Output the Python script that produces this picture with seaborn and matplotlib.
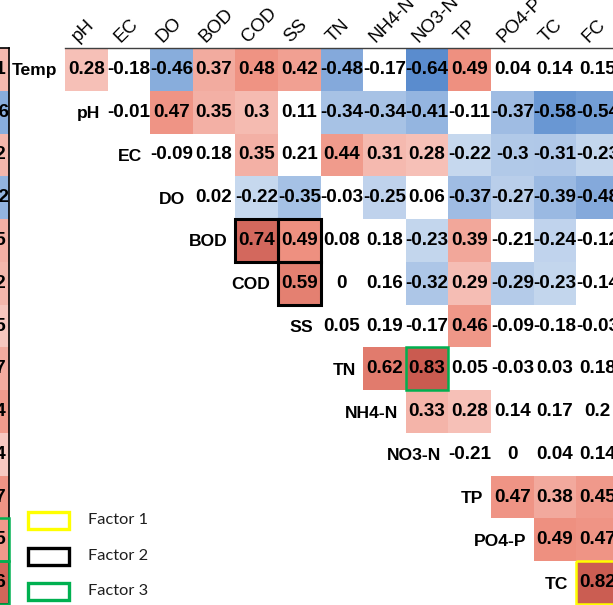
import numpy as np
import pandas as pd
import seaborn as sns
import matplotlib
matplotlib.use("Agg")
import matplotlib.pyplot as plt
from matplotlib.colors import LinearSegmentedColormap
from matplotlib.patches import Rectangle

# ---- variables and pairwise correlation coefficients (upper triangle) ----
row_labels = ["Temp", "pH", "EC", "DO", "BOD", "COD", "SS", "TN",
              "NH4-N", "NO3-N", "TP", "PO4-P", "TC"]
col_labels = ["pH", "EC", "DO", "BOD", "COD", "SS", "TN",
              "NH4-N", "NO3-N", "TP", "PO4-P", "TC", "FC"]

r_temp = [0.28, -0.18, -0.46, 0.37, 0.48, 0.42, -0.48, -0.17, -0.64, 0.49, 0.04, 0.14, 0.15]
r_ph = [-0.01, 0.47, 0.35, 0.3, 0.11, -0.34, -0.34, -0.41, -0.11, -0.37, -0.58, -0.54]
r_ec = [-0.09, 0.18, 0.35, 0.21, 0.44, 0.31, 0.28, -0.22, -0.3, -0.31, -0.23]
r_do = [0.02, -0.22, -0.35, -0.03, -0.25, 0.06, -0.37, -0.27, -0.39, -0.48]
r_bod = [0.74, 0.49, 0.08, 0.18, -0.23, 0.39, -0.21, -0.24, -0.12]
r_cod = [0.59, 0, 0.16, -0.32, 0.29, -0.29, -0.23, -0.14]
r_ss = [0.05, 0.19, -0.17, 0.46, -0.09, -0.18, -0.03]
r_tn = [0.62, 0.83, 0.05, -0.03, 0.03, 0.18]
r_nh4 = [0.33, 0.28, 0.14, 0.17, 0.2]
r_no3 = [-0.21, 0, 0.04, 0.14]
r_tp = [0.47, 0.38, 0.45]
r_po4 = [0.49, 0.47]
r_tc = [0.82]

# FC column of the neighbouring matrix
fc_neighbour = [0.31, -0.46, 0.32, -0.42, 0.35, 0.32, 0.25, 0.37, 0.44, 0.24, 0.47, 0.45, 0.76]

# factor groupings highlighted with outlines: (row, column)
factor1_cells = [("TC", "FC")]
factor2_cells = [("BOD", "COD"), ("BOD", "SS"), ("COD", "SS")]
factor3_cells = [("TN", "NO3-N")]
factor3_neighbour_rows = ["PO4-P", "TC"]
legend_names = ["Factor 1", "Factor 2", "Factor 3"]

rows = [r_temp, r_ph, r_ec, r_do, r_bod, r_cod, r_ss, r_tn,
        r_nh4, r_no3, r_tp, r_po4, r_tc]
n = len(col_labels)
mat = np.full((len(row_labels), n), np.nan)
for i, vals in enumerate(rows):
    mat[i, n - len(vals):] = vals
corr = pd.DataFrame(mat, index=row_labels, columns=col_labels)
mask = corr.isna()
annot = corr.map(lambda v: "" if pd.isna(v) else f"{v:g}")

# ---- styling ----
sns.set_style("white")
plt.rcParams["font.family"] = ["Liberation Sans", "DejaVu Sans"]

vmin, vmax, thr = -0.65, 0.85, 0.215
blue = np.array([0x58, 0x8b, 0xce]) / 255
mid = np.array([0xee, 0x8e, 0x7e]) / 255
dark = np.array([0xc8, 0x58, 0x4e]) / 255
white = np.ones(3)


def pos(v):
    return (v - vmin) / (vmax - vmin)


def lerp(a, b, t):
    return tuple(a + (b - a) * t)


# diverging scale; weak correlations (|r| < 0.215) left uncoloured
cmap = LinearSegmentedColormap.from_list("corr", [
    (pos(vmin), tuple(blue)),
    (pos(-thr), lerp(white, blue, thr / -vmin)),
    (pos(-thr + 1e-4), tuple(white)),
    (pos(thr - 1e-4), tuple(white)),
    (pos(thr), lerp(white, mid, thr / 0.5)),
    (pos(0.5), tuple(mid)),
    (pos(vmax), tuple(dark)),
])

W, H = 613, 605
fig = plt.figure(figsize=(W / 100, H / 100), dpi=100)
cw, ch = 42.6, 42.77
top_px = 48

annot_kws = {"fontsize": 13.6, "fontweight": "bold", "color": "black"}

# ---- main matrix ----
ax = fig.add_axes([65 / W, 1 - (top_px + 13 * ch) / H, 13 * cw / W, 13 * ch / H])
sns.heatmap(corr, mask=mask, cmap=cmap, vmin=vmin, vmax=vmax, annot=annot, fmt="",
            annot_kws=annot_kws, cbar=False, linewidths=0, ax=ax,
            xticklabels=False, yticklabels=False)
ax.set_xticks([])
ax.set_yticks([])
ax.spines["top"].set_visible(True)
ax.spines["top"].set_color("#404040")
ax.spines["top"].set_linewidth(1.0)

for j, name in enumerate(col_labels):
    ax.text(j + 0.36, -0.06, name, rotation=45, rotation_mode="anchor",
            ha="left", va="bottom", fontsize=13.4, color="black", clip_on=False)
for i, name in enumerate(row_labels):
    ax.text(i - 0.18, i + 0.5, name, ha="right", va="center_baseline",
            fontsize=12.6, fontweight="bold", color="black", clip_on=False)


def outline(axis, r, c, color, lw):
    axis.add_patch(Rectangle((c, r), 1, 1, fill=False, edgecolor=color,
                             linewidth=lw, clip_on=False, zorder=5))


for rn, cn in factor2_cells:
    outline(ax, row_labels.index(rn), col_labels.index(cn), "black", 2.2)
for rn, cn in factor3_cells:
    outline(ax, row_labels.index(rn), col_labels.index(cn), "#00b050", 1.8)
for rn, cn in factor1_cells:
    outline(ax, row_labels.index(rn), col_labels.index(cn), "#ffff00", 1.8)

# ---- neighbouring matrix (only its last column reaches this view) ----
ax2 = fig.add_axes([(9 - cw) / W, 1 - (top_px + 13 * ch) / H, cw / W, 13 * ch / H])
nb = pd.DataFrame({"FC": fc_neighbour}, index=row_labels)
sns.heatmap(nb, cmap=cmap, vmin=vmin, vmax=vmax,
            annot=nb.map(lambda v: f"{v:g}"), fmt="", annot_kws=annot_kws,
            cbar=False, linewidths=0, ax=ax2, xticklabels=False, yticklabels=False)
ax2.set_xticks([])
ax2.set_yticks([])
for s in ["top", "right", "left", "bottom"]:
    ax2.spines[s].set_visible(True)
    ax2.spines[s].set_color("black")
    ax2.spines[s].set_linewidth(1.2)
ax2.text(0.36, -0.06, "FC", rotation=45, rotation_mode="anchor",
         ha="left", va="bottom", fontsize=13.4, color="black", clip_on=False)
for rn in factor3_neighbour_rows:
    outline(ax2, row_labels.index(rn), 0, "#00b050", 1.8)

# ---- legend for the factor outlines ----
legend_colors = ["#ffff00", "black", "#00b050"]
legend_y = [520.5, 556, 591]
for name, col, yc in zip(legend_names, legend_colors, legend_y):
    fig.add_artist(Rectangle((27.5 / W, 1 - (yc + 8.5) / H), 41 / W, 17 / H,
                             transform=fig.transFigure, fill=False,
                             edgecolor=col, linewidth=2.4))
    fig.text(88 / W, 1 - yc / H, name, ha="left", va="center",
             fontsize=11.8, family=["Lato", "DejaVu Sans"], color="#1e1e1e")

fig.savefig("out.png", dpi=100)
